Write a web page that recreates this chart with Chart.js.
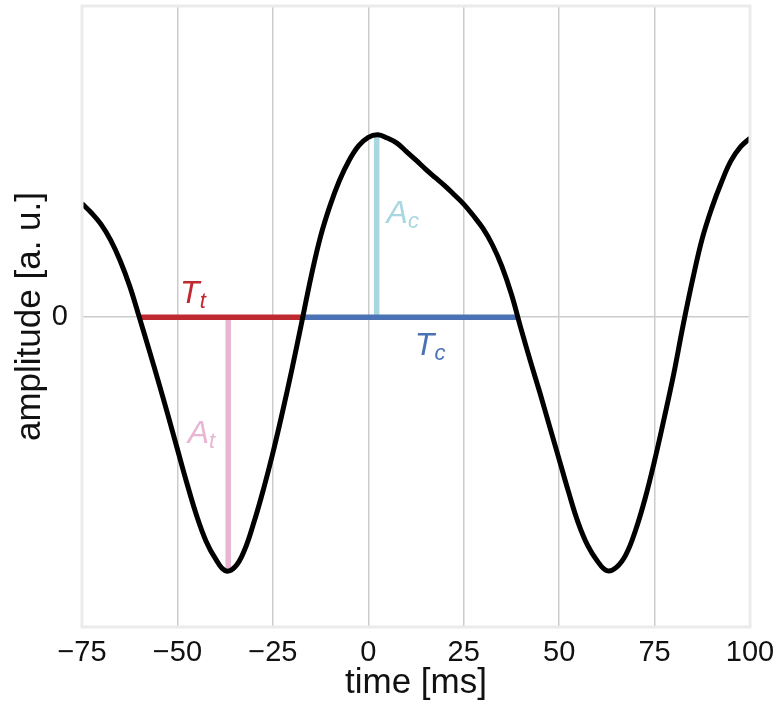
<!DOCTYPE html>
<html>
<head>
<meta charset="utf-8">
<script src="https://cdn.jsdelivr.net/npm/chart.js@4"></script>
<style>
  html, body { margin: 0; padding: 0; background: #fff; }
  #wrap { width: 777px; height: 721px; }
</style>
</head>
<body>
<div id="wrap"><canvas id="my-chart"></canvas></div>
<script>
// waveform, every 2.5 ms
const timeMs = [-75, -72.5, -70, -67.5, -65, -62.5, -60, -57.5, -55, -52.5, -50, -47.5, -45, -42.5, -40, -37.5, -35, -32.5, -30, -27.5, -25, -22.5, -20, -17.5, -15, -12.5, -10, -7.5, -5, -2.5, 0, 2.5, 5, 7.5, 10, 12.5, 15, 17.5, 20, 22.5, 25, 27.5, 30, 32.5, 35, 37.5, 40, 42.5, 45, 47.5, 50, 52.5, 55, 57.5, 60, 62.5, 65, 67.5, 70, 72.5, 75, 77.5, 80, 82.5, 85, 87.5, 90, 92.5, 95, 97.5, 100];
const amplitude = [0.447, 0.41, 0.365, 0.303, 0.222, 0.122, 0, -0.125, -0.253, -0.385, -0.52, -0.655, -0.78, -0.882, -0.952, -0.998, -0.985, -0.92, -0.81, -0.68, -0.535, -0.375, -0.205, -0.025, 0.158, 0.318, 0.44, 0.54, 0.618, 0.675, 0.708, 0.718, 0.705, 0.685, 0.652, 0.618, 0.583, 0.55, 0.518, 0.482, 0.445, 0.4, 0.35, 0.285, 0.2, 0.09, -0.045, -0.175, -0.3, -0.43, -0.56, -0.69, -0.81, -0.9, -0.96, -0.998, -0.985, -0.935, -0.84, -0.715, -0.565, -0.399, -0.225, -0.03, 0.15, 0.31, 0.43, 0.53, 0.615, 0.67, 0.705];

// marker segments
const ttStartEnd = [-59.8, -17.1];
const tcStartEnd = [-17.1, 39.1];
const atTime = -36.7;
const atRange = [0, -1.0];
const acTime = 2.2;
const acRange = [0, 0.72];

const xTicks = [-75, -50, -25, 0, 25, 50, 75, 100];
const yTicks = [0];

const RED = "#bf2a30";
const BLUE = "#4a72b5";
const PINK = "#e8b6d2";
const LIGHTBLUE = "#a9d7e0";

// label anchors (data units) for the T/A annotations
const labels = [
    { main: "T", sub: "t", x: -49.3, y: 0.055, color: RED },
    { main: "A", sub: "c", x: 4.8, y: 0.37, color: LIGHTBLUE },
    { main: "T", sub: "c", x: 12.2, y: -0.15, color: BLUE },
    { main: "A", sub: "t", x: -47.3, y: -0.496, color: PINK },
];

const curve = timeMs.map((t, i) => ({ x: t, y: amplitude[i] }));

function segment(xs, ys, color) {
    return {
        data: [{ x: xs[0], y: ys[0] }, { x: xs[1], y: ys[1] }],
        borderColor: color,
        borderWidth: 5.5,
        pointRadius: 0,
        borderCapStyle: "butt",
        tension: 0,
    };
}

/* frame around the plot area */
const framePlugin = {
    id: "frame",
    afterDatasetsDraw(chart) {
        const { ctx, chartArea } = chart;
        ctx.save();
        ctx.strokeStyle = "#ebebeb";
        ctx.lineWidth = 3;
        ctx.strokeRect(chartArea.left, chartArea.top, chartArea.right - chartArea.left, chartArea.bottom - chartArea.top);
        ctx.restore();
    },
};

/* italic labels with subscripts */
const labelPlugin = {
    id: "subLabels",
    afterDatasetsDraw(chart) {
        const ctx = chart.ctx;
        const xs = chart.scales.x;
        const ys = chart.scales.y;
        ctx.save();
        ctx.textBaseline = "alphabetic";
        ctx.textAlign = "left";
        labels.forEach(l => {
            const px = xs.getPixelForValue(l.x);
            const py = ys.getPixelForValue(l.y);
            ctx.fillStyle = l.color;
            ctx.font = "italic 32px 'Liberation Sans', Arial, sans-serif";
            ctx.fillText(l.main, px, py);
            const w = ctx.measureText(l.main).width;
            ctx.font = "italic 22px 'Liberation Sans', Arial, sans-serif";
            ctx.fillText(l.sub, px + w, py + 5);
        });
        ctx.restore();
    },
};

const family = "'Liberation Sans', Arial, sans-serif";
const tickFont = { family: family, size: 29 };
const titleFont = { family: family, size: 35 };

new Chart(document.getElementById("my-chart"), {
    type: "line",
    data: {
        datasets: [
            {
                data: curve,
                borderColor: "#000",
                borderWidth: 5,
                pointRadius: 0,
                tension: 0.4,
            },
            segment(ttStartEnd, [0, 0], RED),
            segment(tcStartEnd, [0, 0], BLUE),
            segment([atTime, atTime], atRange, PINK),
            segment([acTime, acTime], acRange, LIGHTBLUE),
        ],
    },
    options: {
        responsive: true,
        maintainAspectRatio: false,
        animation: false,
        layout: { padding: { top: 6, right: 27, left: 0, bottom: 0 } },
        plugins: {
            legend: { display: false },
            tooltip: { enabled: false },
        },
        scales: {
            x: {
                type: "linear",
                min: -75,
                max: 100,
                afterBuildTicks: s => { s.ticks = xTicks.map(v => ({ value: v })); },
                afterFit: s => { s.height = 94; s.paddingLeft = 0; s.paddingRight = 0; },
                ticks: {
                    font: tickFont,
                    color: "#111",
                    padding: 9,
                    maxRotation: 0,
                    callback: v => String(v).replace("-", "\u2212"),
                },
                grid: {
                    drawTicks: false,
                    lineWidth: 1.5,
                    color: c => (c.tick && (c.tick.value === -75 || c.tick.value === 100)) ? "rgba(0,0,0,0)" : "#cccccc",
                },
                border: { display: false },
                title: { display: true, text: "time [ms]", font: titleFont, color: "#111", padding: { top: 0, bottom: 17 } },
            },
            y: {
                type: "linear",
                min: -1.22,
                max: 1.225,
                afterBuildTicks: s => { s.ticks = yTicks.map(v => ({ value: v })); },
                afterFit: s => { s.width = 82; s.paddingTop = 0; s.paddingBottom = 0; },
                ticks: { font: tickFont, color: "#111", padding: 14 },
                grid: { drawTicks: false, lineWidth: 1.5, color: "#cccccc" },
                border: { display: false },
                title: { display: true, text: "amplitude [a. u.]", font: titleFont, color: "#111", padding: { top: 9, bottom: 0 } },
            },
        },
    },
    plugins: [framePlugin, labelPlugin],
});
</script>
</body>
</html>
